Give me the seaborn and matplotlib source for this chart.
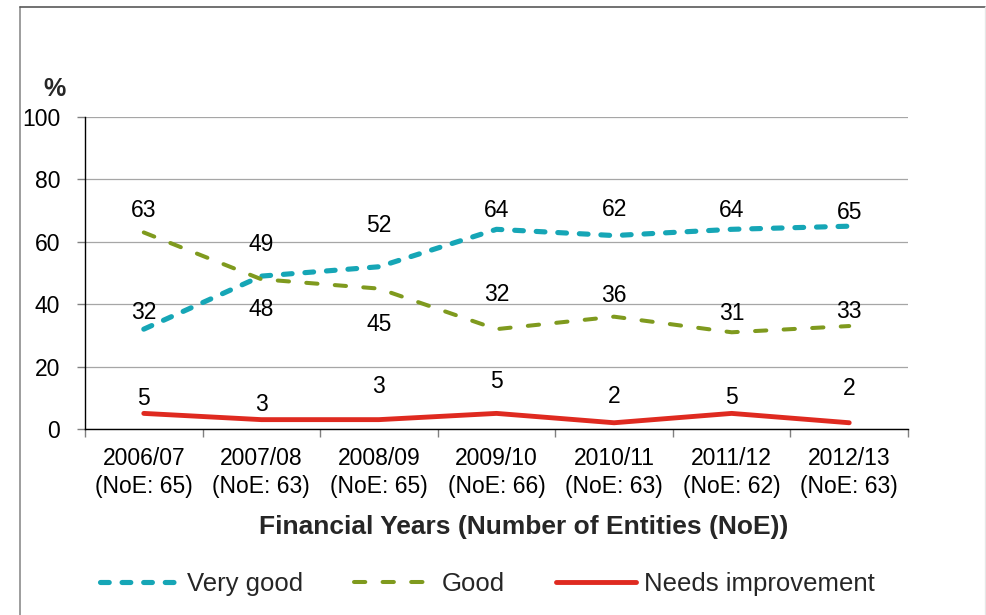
import matplotlib
matplotlib.use("Agg")
import matplotlib.pyplot as plt
from matplotlib.lines import Line2D
import numpy as np
import pandas as pd
import seaborn as sns

# Financial years and number of entities assessed in each year
years = ["2006/07", "2007/08", "2008/09", "2009/10", "2010/11", "2011/12", "2012/13"]
noe = [65, 63, 65, 66, 63, 62, 63]

# Share of entities (%) per rating
very_good = [32, 49, 52, 64, 62, 64, 65]
good = [63, 48, 45, 32, 36, 31, 33]
needs_improvement = [5, 3, 3, 5, 2, 5, 2]

series_names = ["Very good", "Good", "Needs improvement"]

# Vertical offsets (pixels) of each value label relative to its point
vg_label_dy = [17, 32, 41, 19, 26, 19, 14]
good_label_dy = [22, -30, -36, 35, 21, 19, 15]
ni_label_dy = [15, 15, 33, 32, 26, 16, 34]

sns.set_theme(style="white")
plt.rcParams["font.family"] = ["Liberation Sans", "DejaVu Sans"]

tick_labels = [f"{y}\n(NoE: {n})" for y, n in zip(years, noe)]
x_pos = np.arange(len(years))

df = pd.DataFrame({
    "pos": np.tile(x_pos, 3),
    "value": very_good + good + needs_improvement,
    "rating": np.repeat(series_names, len(years)),
})

fig = plt.figure(figsize=(9.86, 6.15), dpi=100)
ax = fig.add_axes([85 / 986, 1 - 429 / 615, (908 - 85) / 986, (429 - 117) / 615])

styles = {
    "Very good": dict(color="#16A6B6", lw=3.7, dashes=(1.7, 2.5)),
    "Good": dict(color="#7F9A1E", lw=2.9, dashes=(2.8, 4.3)),
    "Needs improvement": dict(color="#DF2A20", lw=3.5, dashes=None),
}

handles = []
for name in series_names:
    st = styles[name]
    sub = df[df["rating"] == name]
    sns.lineplot(data=sub, x="pos", y="value", ax=ax, color=st["color"],
                 linewidth=st["lw"], legend=False, zorder=3)
    line = ax.get_lines()[-1]
    if st["dashes"] is not None:
        line.set_dashes(st["dashes"])
        line.set_dash_capstyle("round")
    else:
        line.set_solid_capstyle("round")
    h = Line2D([0], [0], color=st["color"], lw=st["lw"])
    if st["dashes"] is not None:
        h.set_dashes(st["dashes"])
        h.set_dash_capstyle("round")
    else:
        h.set_solid_capstyle("round")
    handles.append(h)

# Value labels
for vals, dys in [(very_good, vg_label_dy), (good, good_label_dy),
                  (needs_improvement, ni_label_dy)]:
    for xi, v, dy in zip(x_pos, vals, dys):
        ax.annotate(str(v), (xi, v), xytext=(0, dy), textcoords="offset pixels",
                    ha="center", va="center", fontsize=16.5, color="black", zorder=4)

ax.set_xlim(-0.5, len(years) - 0.5)
ax.set_ylim(0, 100)
ax.set_yticks(np.arange(0, 101, 20))
ax.yaxis.grid(True, color="#A6A6A6", linewidth=0.9)
ax.xaxis.grid(False)

# Category boundary ticks (unlabelled) and centred category labels
ax.set_xticks(np.arange(-0.5, len(years)), labels=[""] * (len(years) + 1))
ax.set_xticks(x_pos, labels=tick_labels, minor=True)
ax.tick_params(axis="x", which="major", length=6, width=1, color="#808080",
               direction="out", bottom=True)
ax.tick_params(axis="x", which="minor", length=0, pad=13, labelsize=16.5,
               labelcolor="black")
ax.tick_params(axis="y", length=6, width=1, color="#808080", direction="out",
               left=True, pad=12, labelsize=16.5, labelcolor="black")
for lbl in ax.get_xticklabels(minor=True):
    lbl.set_linespacing(1.3)

for side in ["top", "right"]:
    ax.spines[side].set_visible(False)
ax.spines["left"].set_color("black")
ax.spines["bottom"].set_color("black")
ax.spines["left"].set_linewidth(1)
ax.spines["bottom"].set_linewidth(1)
ax.set_xlabel("")
ax.set_ylabel("")

fig.text(524 / 986, 1 - 527 / 615, "Financial Years (Number of Entities (NoE))",
         ha="center", va="center", fontsize=19, fontweight="bold")
fig.text(55 / 986, 1 - 89 / 615, "%", ha="center", va="center",
         fontsize=18, fontweight="bold")

fig.legend(handles, series_names, loc="center", bbox_to_anchor=(487 / 986, 1 - 584 / 615),
           ncol=3, frameon=False, fontsize=18.5, handlelength=3.1,
           handletextpad=0.3, columnspacing=2.0)

# Chart frame
fig.add_artist(Line2D([20 / 986, 20 / 986], [0, 1 - 7 / 615], color="#8C8C8C", lw=1.2,
                      transform=fig.transFigure))
fig.add_artist(Line2D([20 / 986, 985 / 986], [1 - 7 / 615, 1 - 7 / 615], color="#595959",
                      lw=1.2, transform=fig.transFigure))
fig.add_artist(Line2D([985 / 986, 985 / 986], [0, 1 - 7 / 615], color="#E6E6E6", lw=1,
                      transform=fig.transFigure))

fig.savefig("out.png", dpi=100, facecolor="white")
